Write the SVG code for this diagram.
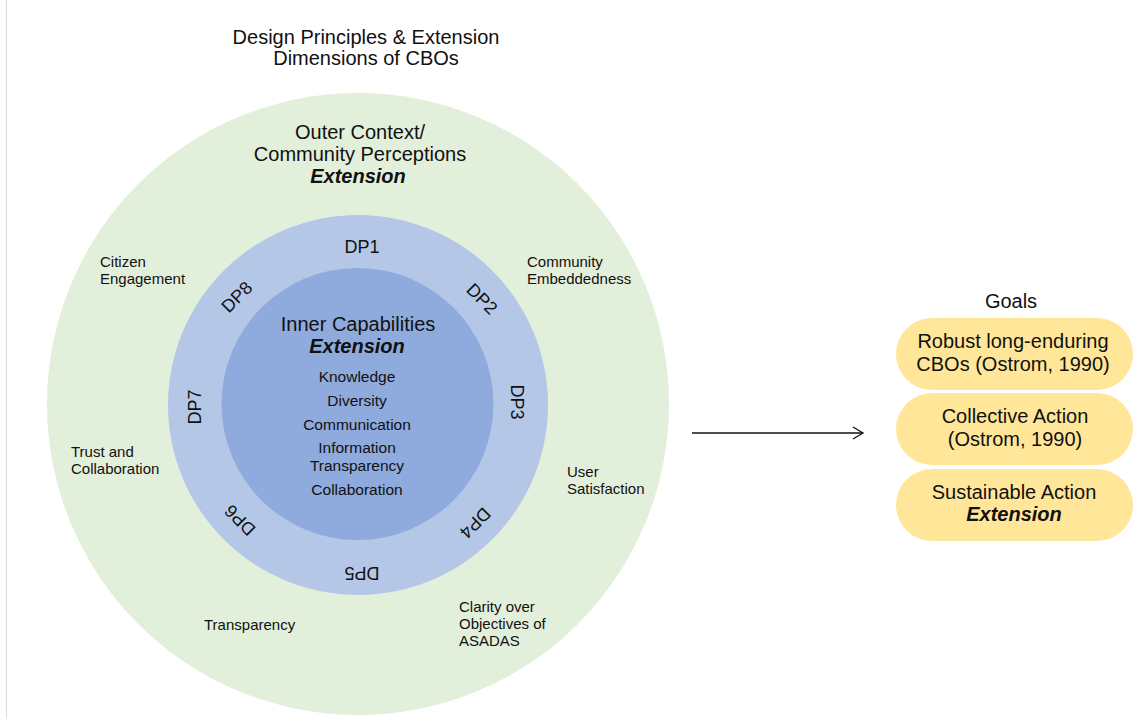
<svg xmlns="http://www.w3.org/2000/svg" width="1133" height="719" viewBox="0 0 1133 719">
  <style>
    text { font-family: "Liberation Sans", Arial, sans-serif; fill: #111; }
    .big { font-size: 20px; text-anchor: middle; }
    .item { font-size: 15.5px; text-anchor: middle; }
    .side { font-size: 15px; }
    .dp { font-size: 18px; text-anchor: middle; dominant-baseline: central; }
    .ext { font-weight: bold; font-style: italic; }
    .goal { fill: #ffe699; }
  </style>
  <defs>
    <marker id="open-arrow" markerWidth="14" markerHeight="14" refX="12" refY="7" orient="auto" markerUnits="userSpaceOnUse">
      <path d="M2,1 L12,7 L2,13" fill="none" stroke="#111" stroke-width="1.3"/>
    </marker>
  </defs>

  <rect width="1133" height="719" fill="#fff"/>
  <line x1="6.5" y1="0" x2="6.5" y2="719" stroke="#dcdcdc" stroke-width="1"/>

  <!-- heading -->
  <g id="title">
    <text class="big" x="366" y="44">Design Principles &amp; Extension</text>
    <text class="big" x="366" y="65">Dimensions of CBOs</text>
  </g>

  <!-- outer ring: context and community perceptions -->
  <g id="outer-context">
    <circle cx="358" cy="404" r="311" fill="#e2efda"/>
    <text class="big" x="360" y="139">Outer Context/</text>
    <text class="big" x="360" y="161">Community Perceptions</text>
    <text class="big ext" x="358" y="183">Extension</text>
    <text class="side" x="100" y="267">Citizen</text>
    <text class="side" x="100" y="284">Engagement</text>
    <text class="side" x="527" y="267">Community</text>
    <text class="side" x="527" y="284">Embeddedness</text>
    <text class="side" x="71" y="457">Trust and</text>
    <text class="side" x="71" y="474">Collaboration</text>
    <text class="side" x="567" y="477">User</text>
    <text class="side" x="567" y="494">Satisfaction</text>
    <text class="side" x="204" y="630">Transparency</text>
    <text class="side" x="459" y="612">Clarity over</text>
    <text class="side" x="459" y="629">Objectives of</text>
    <text class="side" x="459" y="646">ASADAS</text>
  </g>

  <!-- middle ring: design principles, each label turned along the ring -->
  <g id="design-principles">
    <circle cx="358" cy="405" r="190" fill="#b4c7e7"/>
    <text class="dp" x="362" y="247">DP1</text>
    <text class="dp" x="482" y="299" transform="rotate(45 482 299)">DP2</text>
    <text class="dp" x="517" y="402" transform="rotate(90 517 402)">DP3</text>
    <text class="dp" x="475" y="523" transform="rotate(135 475 523)">DP4</text>
    <text class="dp" x="362" y="573" transform="rotate(180 362 573)">DP5</text>
    <text class="dp" x="240" y="520" transform="rotate(225 240 520)">DP6</text>
    <text class="dp" x="195" y="407" transform="rotate(270 195 407)">DP7</text>
    <text class="dp" x="237" y="297" transform="rotate(315 237 297)">DP8</text>
  </g>

  <!-- core: inner capabilities -->
  <g id="inner-capabilities">
    <circle cx="357.5" cy="404" r="136" fill="#8faadc"/>
    <text class="big" x="358" y="331">Inner Capabilities</text>
    <text class="big ext" x="357" y="353">Extension</text>
    <text class="item" x="357" y="382">Knowledge</text>
    <text class="item" x="357" y="406">Diversity</text>
    <text class="item" x="357" y="430">Communication</text>
    <text class="item" x="357" y="453">Information</text>
    <text class="item" x="357" y="471">Transparency</text>
    <text class="item" x="357" y="495">Collaboration</text>
  </g>

  <g id="connectors">
    <line x1="692" y1="433" x2="863" y2="433" stroke="#111" stroke-width="1.3" marker-end="url(#open-arrow)"/>
  </g>

  <g id="goals-heading">
    <text class="big" x="1011" y="308">Goals</text>
  </g>
  <g id="goal-robust">
    <rect class="goal" x="896" y="318" width="237" height="72" rx="36"/>
    <text class="big" x="1013" y="348">Robust long-enduring</text>
    <text class="big" x="1013" y="371">CBOs (Ostrom, 1990)</text>
  </g>
  <g id="goal-collective">
    <rect class="goal" x="896" y="393" width="237" height="72" rx="36"/>
    <text class="big" x="1015" y="423">Collective Action</text>
    <text class="big" x="1015" y="446">(Ostrom, 1990)</text>
  </g>
  <g id="goal-sustainable">
    <rect class="goal" x="896" y="469" width="237" height="72" rx="36"/>
    <text class="big" x="1014" y="499">Sustainable Action</text>
    <text class="big ext" x="1014" y="521">Extension</text>
  </g>
</svg>
